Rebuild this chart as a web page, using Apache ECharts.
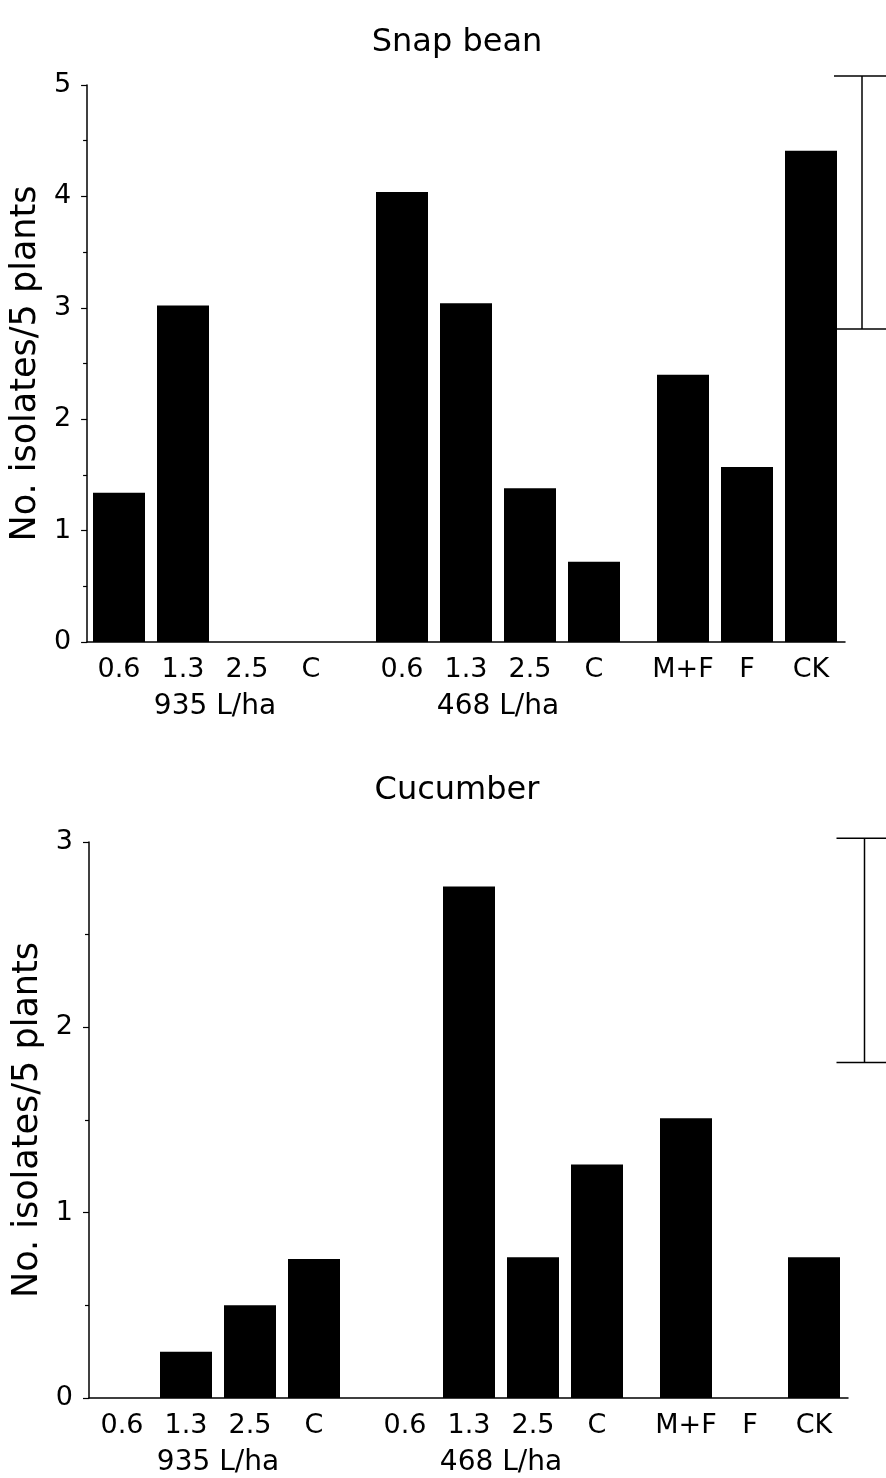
<!DOCTYPE html>
<html><head><meta charset="utf-8">
<script src="https://cdn.jsdelivr.net/npm/echarts@6/dist/echarts.min.js"></script>
<style>html,body{margin:0;padding:0;background:#fff}#c{width:886px;height:1478px}</style>
</head><body><div id="c"></div>
<script>
// ---- data ----
const groupCats = [['0.6','1.3','2.5','C'], ['0.6','1.3','2.5','C'], ['M+F','F','CK']];
const groupNames = ['935 L/ha', '468 L/ha', ''];
const snapBean = [[1.34, 3.02, 0, 0], [4.04, 3.04, 1.38, 0.72], [2.40, 1.57, 4.41]];
const cucumber = [[0, 0.25, 0.50, 0.75], [0, 2.76, 0.76, 1.26], [1.51, 0, 0.76]];
const snapLSD = [2.81, 5.08];
const cucLSD = [1.81, 3.02];
const titles = ['Snap bean', 'Cucumber'];
const yName = 'No. isolates/5 plants';
const yMax = [5, 3];
const yTicks = [1, 1];

// ---- layout ----
const FONT = 'DejaVu Sans';
const panels = [
  {title: titles[0], data: snapBean, lsd: snapLSD, max: yMax[0], top: 85, h: 557, axisX: 86, baseRight: 41, groupLeft: [87, 370, 651], lsdX: 866, titleTop: 22},
  {title: titles[1], data: cucumber, lsd: cucLSD, max: yMax[1], top: 842, h: 556, axisX: 89, baseRight: 38, groupLeft: [90, 373, 654], lsdX: 871, titleTop: 770}
];
const PITCH = 64;
const grid = [], xAxis = [], yAxis = [], series = [], title = [];
const lineStyle = {color: '#000', width: 1.5};

panels.forEach((p, pi) => {
  title.push({text: p.title, left: 452, top: p.titleTop, textAlign: 'center',
    textStyle: {fontFamily: FONT, fontSize: 32, fontWeight: 'normal', color: '#000'}});
  let gi = grid.length;
  grid.push({left: p.axisX, right: p.baseRight, top: p.top, height: p.h});
  xAxis.push({gridIndex: gi, type: 'category', data: [''], axisLine: {show: true, lineStyle},
    axisTick: {show: false}, axisLabel: {show: false}});
  yAxis.push({gridIndex: gi, type: 'value', min: 0, max: p.max, interval: yTicks[pi],
    name: yName, nameLocation: 'middle', nameGap: 38,
    nameTextStyle: {fontFamily: FONT, fontSize: 35, color: '#000'},
    axisLine: {show: true, lineStyle},
    axisTick: {show: true, length: 6, lineStyle: {color: '#000', width: 1.2}},
    minorTick: {show: true, splitNumber: 2, length: 4, lineStyle: {color: '#000', width: 1.2}},
    splitLine: {show: false},
    axisLabel: {margin: 16, fontFamily: FONT, fontSize: 27, color: '#000'}});
  groupCats.forEach((cats, k) => {
    const g = grid.length;
    grid.push({left: p.groupLeft[k], width: PITCH * cats.length, top: p.top, height: p.h});
    xAxis.push({gridIndex: g, type: 'category', data: cats,
      name: groupNames[k], nameLocation: 'middle', nameGap: 51,
      nameTextStyle: {fontFamily: FONT, fontSize: 28, color: '#000'},
      axisLine: {show: false}, axisTick: {show: false},
      axisLabel: {interval: 0, margin: 14, fontFamily: FONT, fontSize: 27, color: '#000'}});
    yAxis.push({gridIndex: g, type: 'value', min: 0, max: p.max, show: false});
    series.push({type: 'bar', xAxisIndex: g, yAxisIndex: g, data: p.data[k], barWidth: 52,
      itemStyle: {color: '#000'}, silent: true, animation: false});
  });
  const lg = grid.length;
  grid.push({left: p.lsdX - 28, width: 56, top: p.top, height: p.h});
  xAxis.push({gridIndex: lg, type: 'category', data: ['LSD'], show: false});
  yAxis.push({gridIndex: lg, type: 'value', min: 0, max: p.max, show: false});
  series.push({type: 'custom', xAxisIndex: lg, yAxisIndex: lg, clip: false, animation: false, silent: true,
    data: [[0, p.lsd[0], p.lsd[1]]],
    renderItem: (params, api) => {
      const lo = api.coord([api.value(0), api.value(1)]);
      const hi = api.coord([api.value(0), api.value(2)]);
      const hw = 28;
      const st = {stroke: '#000', lineWidth: 1.5};
      return {type: 'group', children: [
        {type: 'line', shape: {x1: lo[0], y1: lo[1], x2: hi[0], y2: hi[1]}, style: st},
        {type: 'line', shape: {x1: lo[0] - hw, y1: lo[1], x2: lo[0] + hw, y2: lo[1]}, style: st},
        {type: 'line', shape: {x1: hi[0] - hw, y1: hi[1], x2: hi[0] + hw, y2: hi[1]}, style: st}
      ]};
    }});
});

const chart = echarts.init(document.getElementById('c'), null, {renderer: 'canvas'});
chart.setOption({backgroundColor: '#fff', animation: false, title, grid, xAxis, yAxis, series});
</script></body></html>
